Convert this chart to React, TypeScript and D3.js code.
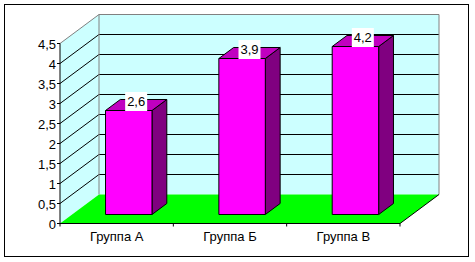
import React from "react";
import * as d3 from "d3";

const categories = ["Группа А", "Группа Б", "Группа В"];
const values = [2.6, 3.9, 4.2];
const yTicks = [0, 0.5, 1, 1.5, 2, 2.5, 3, 3.5, 4, 4.5];

const W = 475;
const H = 262;
const DX = 39;
const DY = 29;
const D0 = 0.31;
const D1 = 0.69;
const FONT = "'Liberation Sans', Arial, sans-serif";

const fmt = (v: number) => d3.format("")(v).replace(".", ",");

export default function App() {
  const x = d3.scaleBand<string>().domain(categories).range([60, 400]).paddingInner(0.59).paddingOuter(0.295);
  const xc = d3.scalePoint<string>().domain(categories).range([60, 400]).padding(0.5);
  const y = d3.scaleLinear().domain([0, 4.5]).range([223.5, 43.5]);
  const P = (px: number, v: number, d: number): [number, number] => [px + d * DX, y(v) - d * DY];
  const poly = (pts: [number, number][]) => pts.map((p) => p.join(",")).join(" ");
  const [x0, x1] = [60, 400];
  const ymax = 4.5;

  return (
    <svg width={W} height={H} style={{ position: "absolute", left: 0, top: 0 }} fontFamily={FONT}>
      <rect x={0} y={0} width={W} height={H} fill="#fff" />
      <rect x={4.5} y={4.5} width={464} height={252} fill="#fff" stroke="#000" strokeWidth={1} />
      {/* left wall */}
      <polygon points={poly([P(x0, 0, 0), P(x0, ymax, 0), P(x0, ymax, 1), P(x0, 0, 1)])} fill="#CCFFFF" />
      {/* back wall */}
      <polygon points={poly([P(x0, 0, 1), P(x0, ymax, 1), P(x1, ymax, 1), P(x1, 0, 1)])} fill="#CCFFFF" />
      {/* gridlines */}
      {yTicks.filter((t) => t > 0 && t < ymax).map((t) => {
        const a = P(x0, t, 0), b = P(x0, t, 1), c = P(x1, t, 1);
        return (
          <g key={t}>
            <line x1={a[0]} y1={a[1]} x2={b[0]} y2={b[1]} stroke="#000" />
            <line x1={b[0]} y1={b[1]} x2={c[0]} y2={c[1]} stroke="#000" />
          </g>
        );
      })}
      {/* wall outlines */}
      <polyline points={poly([P(x0, ymax, 0), P(x0, ymax, 1), P(x1, ymax, 1), P(x1, 0, 1)])} fill="none" stroke="#808080" />
      <line x1={P(x0, 0, 1)[0]} y1={P(x0, 0, 1)[1]} x2={P(x0, ymax, 1)[0]} y2={P(x0, ymax, 1)[1]} stroke="#808080" />
      {/* floor */}
      <polygon points={poly([P(x0, 0, 0), P(x1, 0, 0), P(x1, 0, 1), P(x0, 0, 1)])} fill="#00FF00" />
      <line x1={P(x1, 0, 0)[0]} y1={P(x1, 0, 0)[1]} x2={P(x1, 0, 1)[0]} y2={P(x1, 0, 1)[1]} stroke="#000" />
      {/* bars */}
      {categories.map((c, i) => {
        const bx0 = x(c)!;
        const bx1 = bx0 + x.bandwidth();
        const v = values[i];
        const front = [P(bx0, 0, D0), P(bx1, 0, D0), P(bx1, v, D0), P(bx0, v, D0)];
        const side = [P(bx1, 0, D0), P(bx1, 0, D1), P(bx1, v, D1), P(bx1, v, D0)];
        const top = [P(bx0, v, D0), P(bx1, v, D0), P(bx1, v, D1), P(bx0, v, D1)];
        return (
          <g key={c} stroke="#000" strokeWidth={1} strokeLinejoin="miter">
            <polygon points={poly(side)} fill="#800080" />
            <polygon points={poly(top)} fill="#C000C0" />
            <polygon points={poly(front)} fill="#FF00FF" />
          </g>
        );
      })}
      {/* data labels */}
      {categories.map((c, i) => {
        const bc = x(c)! + x.bandwidth() / 2;
        const [lx, ly] = P(bc, values[i], 0.5);
        const txt = fmt(values[i]);
        return (
          <g key={"l" + c}>
            <rect x={lx - 11} y={ly - 13} width={22} height={19} fill="#fff" />
            <text x={lx} y={ly + 1} textAnchor="middle" fontSize={13} fill="#000">{txt}</text>
          </g>
        );
      })}
      {/* axes */}
      <line x1={x0} y1={y(0)} x2={x0} y2={y(ymax)} stroke="#000" />
      {yTicks.map((t) => (
        <g key={"t" + t}>
          <line x1={x0 - 3} y1={y(t)} x2={x0} y2={y(t)} stroke="#000" />
          <text x={56} y={y(t) + 5} textAnchor="end" fontSize={13} fill="#000">{fmt(t)}</text>
        </g>
      ))}
      <line x1={x0} y1={y(0)} x2={x1} y2={y(0)} stroke="#000" />
      {[0, 1, 2, 3].map((k) => {
        const px = x0 + k * x.step();
        return <line key={"xt" + k} x1={px} y1={y(0)} x2={px} y2={y(0) + 3} stroke="#000" />;
      })}
      {categories.map((c) => (
        <text key={"c" + c} x={xc(c)!} y={241} textAnchor="middle" fontSize={13} fill="#000">{c}</text>
      ))}
    </svg>
  );
}
